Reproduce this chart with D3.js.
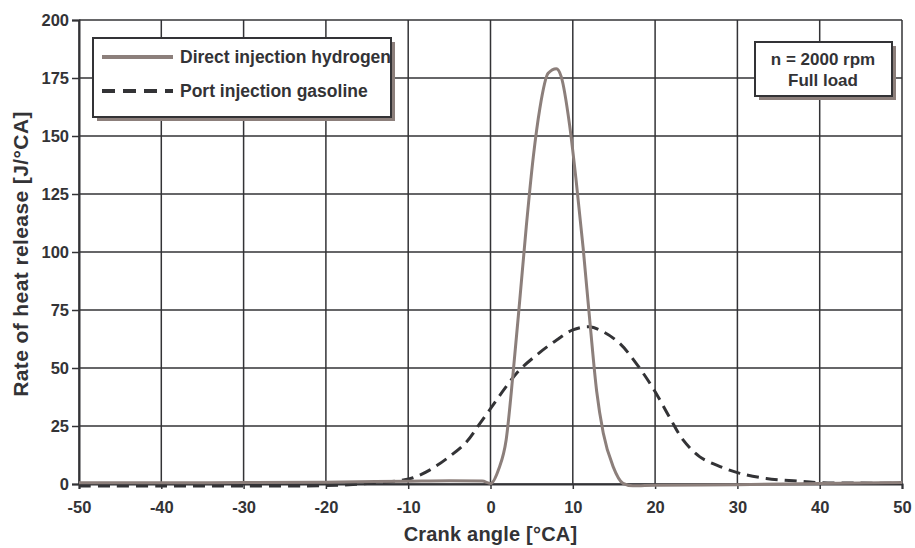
<!DOCTYPE html>
<html>
<head>
<meta charset="utf-8">
<script src="https://cdn.jsdelivr.net/npm/d3@7"></script>
<style>
  body { margin: 0; background: #fff; }
  svg { display: block; font-family: "Liberation Sans", Arial, Helvetica, sans-serif; font-weight: bold; }
</style>
</head>
<body>
<div id="chart"></div>
<script>
const xTicks = [-50, -40, -30, -20, -10, 0, 10, 20, 30, 40, 50]
const yTicks = [0, 25, 50, 75, 100, 125, 150, 175, 200]

const hydrogenAngle = [-50, -40, -30, -20, -10, -5, -1, 0, 1, 1.9, 2.75, 3.55, 4.35, 5.2, 6, 7, 8,
  8.6, 9.6, 10.4, 11.25, 12.1, 12.9, 13.7, 14.9, 16.1, 17.3, 20, 30, 40, 50]
const hydrogenRate = [0.5, 0.5, 0.6, 0.8, 1.2, 1.4, 1.3, 0.2, 6.5, 19, 48, 79, 111, 141, 162, 177, 179,
  175.5, 155, 131, 102, 69, 40, 22, 7.5, 0.3, -0.8, -0.5, -0.3, 0.2, 0.6]

const gasolineAngle = [-50, -40, -30, -20, -15, -10.6, -9.4, -7.4, -5, -2.9, -1.3, 0.3, 1.9, 3.5, 5.6, 8, 10, 12,
  13.7, 15.7, 17.7, 19.8, 21.8, 23.4, 25.4, 27.9, 30.3, 33.5, 36.8, 40, 45, 50]
const gasolineRate = [-0.9, -0.9, -0.9, -0.7, 0.2, 1.7, 2.7, 6, 11.8, 18.2, 26, 34, 42, 49, 55.6, 62, 66.4, 67.8,
  65.6, 60.6, 52, 41, 28.5, 19, 11.8, 7.5, 4.6, 2.4, 1.4, 0.6, 0.4, 0.3]

const seriesNames = ["Direct injection hydrogen", "Port injection gasoline"]
const noteLines = ["n = 2000 rpm", "Full load"]

const W = 915, H = 548
const margin = { top: 20, right: 13, bottom: 64, left: 79 }
const width = W - margin.left - margin.right
const height = H - margin.top - margin.bottom

const ink = "#333336"
const brown = "#8c7f7b"

const svg = d3.select("#chart").append("svg")
  .attr("width", W).attr("height", H)

const g = svg.append("g").attr("transform", `translate(${margin.left},${margin.top})`)

const x = d3.scaleLinear().domain([-50, 50]).range([0, width])
const y = d3.scaleLinear().domain([0, 200]).range([height, 0])

// grid
g.append("g")
  .selectAll("line")
  .data(xTicks)
  .enter().append("line")
  .attr("x1", d => x(d)).attr("x2", d => x(d))
  .attr("y1", 0).attr("y2", height)
  .attr("stroke", ink).attr("stroke-width", 1.5)

g.append("g")
  .selectAll("line")
  .data(yTicks)
  .enter().append("line")
  .attr("x1", 0).attr("x2", width)
  .attr("y1", d => y(d)).attr("y2", d => y(d))
  .attr("stroke", ink).attr("stroke-width", 1.5)

// axes
const xAxis = g.append("g")
  .attr("transform", `translate(0,${height})`)
  .call(d3.axisBottom(x).tickValues(xTicks).tickSize(5).tickFormat(d => String(d)))
xAxis.select(".domain").attr("stroke", ink).attr("stroke-width", 2)
xAxis.selectAll(".tick line").attr("stroke", ink).attr("stroke-width", 1.5)
xAxis.selectAll(".tick text")
  .attr("y", 29).attr("dy", null)
  .attr("fill", ink).attr("font-size", 16.5).attr("font-family", null).attr("font-weight", "bold")

const yAxis = g.append("g")
  .call(d3.axisLeft(y).tickValues(yTicks).tickSize(7).tickPadding(3))
yAxis.select(".domain").attr("stroke", ink).attr("stroke-width", 2)
yAxis.selectAll(".tick line").attr("stroke", ink).attr("stroke-width", 1.5)
yAxis.selectAll(".tick text")
  .attr("fill", ink).attr("font-size", 16.5).attr("font-family", null).attr("font-weight", "bold")

svg.append("text")
  .attr("x", margin.left + x(0))
  .attr("y", 541)
  .attr("text-anchor", "middle")
  .attr("font-size", 20)
  .attr("letter-spacing", 0.2)
  .attr("fill", ink)
  .text("Crank angle [°CA]")

svg.append("text")
  .attr("transform", "translate(28,254) rotate(-90)")
  .attr("text-anchor", "middle")
  .attr("font-size", 21)
  .attr("letter-spacing", 0.4)
  .attr("fill", ink)
  .text("Rate of heat release [J/°CA]")

// curves
const gasoline = gasolineAngle.map((a, i) => [a, gasolineRate[i]])
const hydrogen = hydrogenAngle.map((a, i) => [a, hydrogenRate[i]])

g.append("path")
  .datum(gasoline)
  .attr("fill", "none")
  .attr("stroke", ink)
  .attr("stroke-width", 3)
  .attr("stroke-dasharray", "12,7")
  .attr("d", d3.line()
    .x(d => x(d[0]))
    .y(d => y(d[1]))
    .curve(d3.curveCatmullRom.alpha(0.5)))

g.append("path")
  .datum(hydrogen)
  .attr("fill", "none")
  .attr("stroke", brown)
  .attr("stroke-width", 3)
  .attr("d", d3.line()
    .x(d => x(d[0]))
    .y(d => y(d[1]))
    .curve(d3.curveMonotoneX))

// legend box
const legend = svg.append("g").attr("transform", "translate(93,38)")
legend.append("rect")
  .attr("x", 4).attr("y", 4).attr("width", 298).attr("height", 79)
  .attr("fill", brown)
legend.append("rect")
  .attr("width", 298).attr("height", 79)
  .attr("fill", "#fff")

legend.append("line")
  .attr("x1", 9).attr("x2", 80).attr("y1", 19).attr("y2", 19)
  .attr("stroke", brown).attr("stroke-width", 4)
legend.append("line")
  .attr("x1", 9).attr("x2", 80).attr("y1", 53).attr("y2", 53)
  .attr("stroke", ink).attr("stroke-width", 4).attr("stroke-dasharray", "13,8")

legend.selectAll("text.item")
  .data(seriesNames)
  .enter().append("text")
  .attr("class", "item")
  .attr("x", 87)
  .attr("y", (d, i) => 25 + i * 34)
  .attr("font-size", 17.5)
  .attr("fill", ink)
  .text(d => d)

legend.append("rect")
  .attr("width", 298).attr("height", 79)
  .attr("fill", "none").attr("stroke", ink).attr("stroke-width", 2)

// condition note
const note = svg.append("g").attr("transform", "translate(755,42)")
note.append("rect")
  .attr("x", 4).attr("y", 4).attr("width", 137).attr("height", 54)
  .attr("fill", brown)
note.append("rect")
  .attr("width", 137).attr("height", 54)
  .attr("fill", "#fff").attr("stroke", ink).attr("stroke-width", 2)
note.selectAll("text")
  .data(noteLines)
  .enter().append("text")
  .attr("x", 68)
  .attr("y", (d, i) => 23 + i * 21)
  .attr("text-anchor", "middle")
  .attr("font-size", 17)
  .attr("fill", ink)
  .text(d => d)
</script>
</body>
</html>
